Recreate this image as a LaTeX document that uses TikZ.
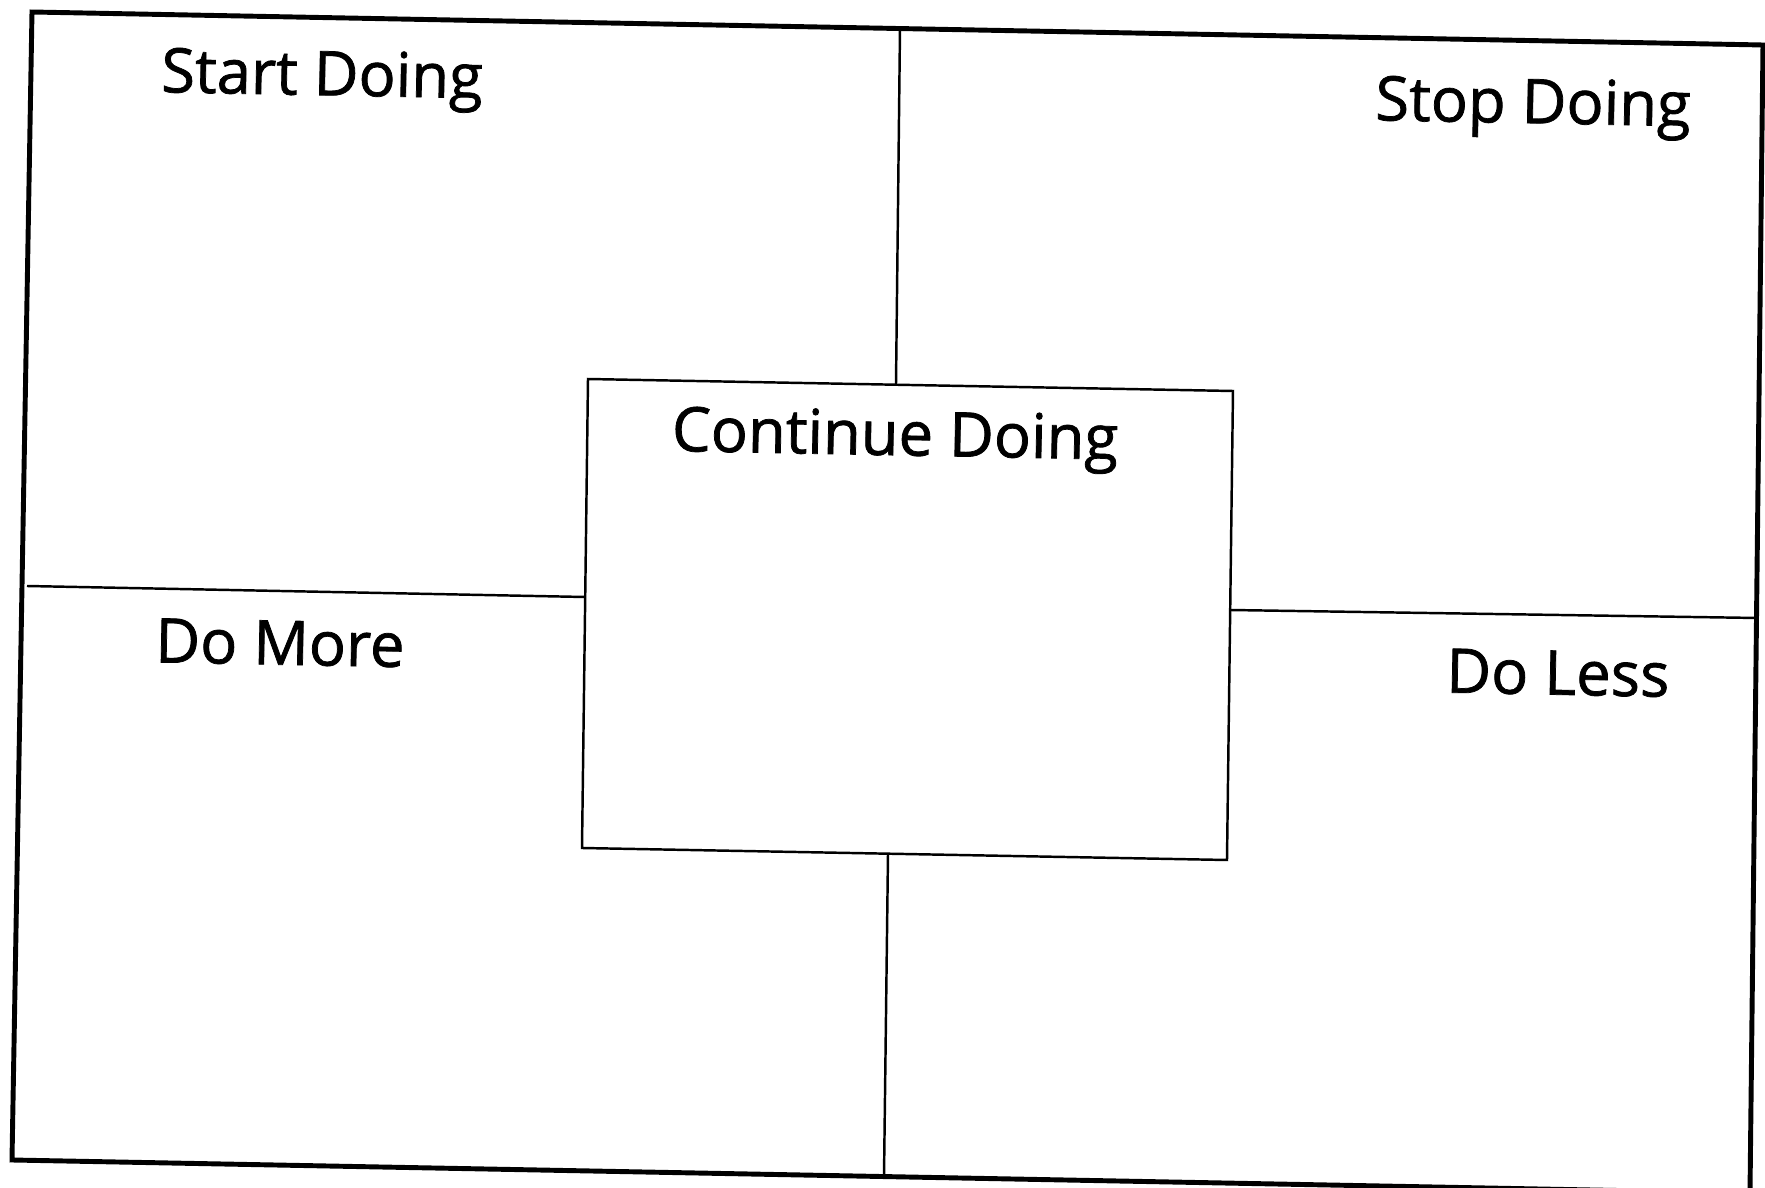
\documentclass[tikz,border=0pt]{standalone}
\usepackage{fontspec}
\setmainfont{Open Sans}
\newfontfamily\labelfont[FakeBold=1.2]{Open Sans}
\tikzset{
  frame/.style={line width=1.4pt, line join=miter},
  divider/.style={line width=0.7pt},
  label/.style={font=\labelfont\fontsize{17.5}{21}\selectfont, rotate=-1.1, inner sep=0pt}
}

\begin{document}
\begin{tikzpicture}[x=0.01cm, y=-0.01cm]
\useasboundingbox (0,0) rectangle (1765,1188);

% Cantos do quadro externo
\coordinate (otl) at (32, 12);
\coordinate (otr) at (1763, 45);
\coordinate (obr) at (1750, 1193);
\coordinate (obl) at (12, 1160);
\draw[frame] (otl) -- (otr) -- (obr) -- (obl) -- cycle;

% Caixa central
\coordinate (itl) at (588, 379);
\coordinate (itr) at (1233, 391);
\coordinate (ibr) at (1227, 860);
\coordinate (ibl) at (582, 848);
\draw[divider] (itl) -- (itr) -- (ibr) -- (ibl) -- cycle;

% Linhas divisórias
\coordinate (vtop) at (900, 29);
\coordinate (vtopend) at (896, 384);
\coordinate (vbot) at (888, 854);
\coordinate (vbotend) at (884, 1177);
\coordinate (hleft) at (27, 586);
\coordinate (hleftend) at (585, 597);
\coordinate (hright) at (1230, 610);
\coordinate (hrightend) at (1758, 618);
\draw[divider] (vtop) -- (vtopend);
\draw[divider] (vbot) -- (vbotend);
\draw[divider] (hleft) -- (hleftend);
\draw[divider] (hright) -- (hrightend);

% Rótulos
\node[label] (start) at (322, 80) {Start Doing};
\node[label] (stop) at (1533, 108) {Stop Doing};
\node[label] (cont) at (895, 440) {Continue Doing};
\node[label] (more) at (280, 643) {Do More};
\node[label] (less) at (1558, 673) {Do Less};

\end{tikzpicture}
\end{document}
